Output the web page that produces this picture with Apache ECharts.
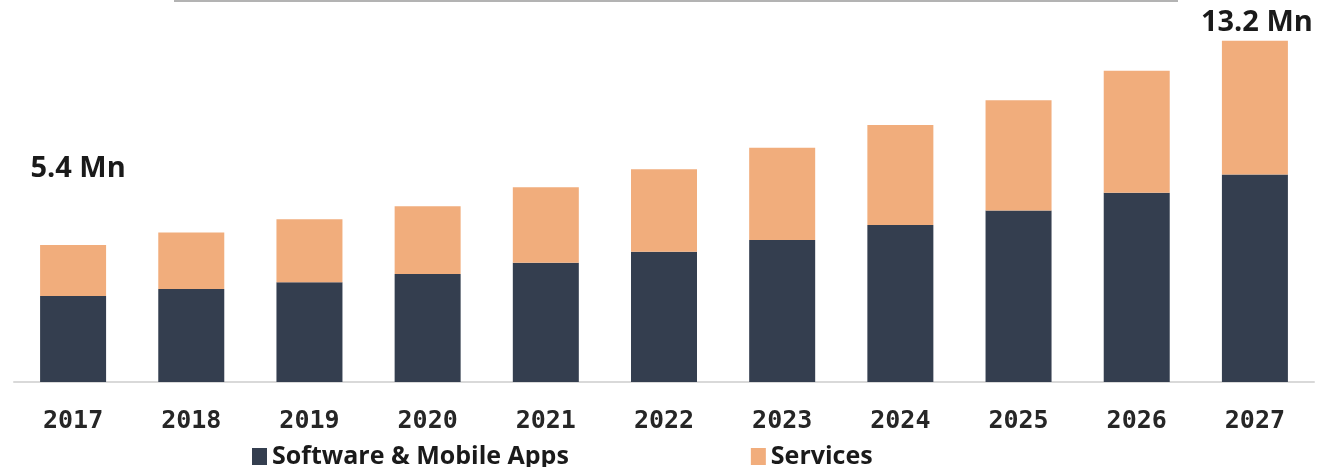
<!DOCTYPE html>
<html>
<head>
<meta charset="utf-8">
<script src="https://cdn.jsdelivr.net/npm/echarts@6/dist/echarts.min.js"></script>
<style>
html,body{margin:0;padding:0;background:#fff;}
#chart{width:1329px;height:467px;}
</style>
</head>
<body>
<div id="chart"></div>
<script>
// Data (Mn units)
const years = ['2017','2018','2019','2020','2021','2022','2023','2024','2025','2026','2027'];
const softwareMobileApps = [3.35, 3.62, 3.88, 4.20, 4.64, 5.07, 5.53, 6.11, 6.67, 7.37, 8.08];
const services = [1.98, 2.20, 2.45, 2.64, 2.94, 3.21, 3.59, 3.89, 4.30, 4.74, 5.20];
const totalLabels = ['5.4 Mn', '', '', '', '', '', '', '', '', '', '13.2 Mn'];
const seriesNames = ['Software & Mobile Apps', 'Services'];

const labelStyle = [
  {distance: 62, offset: [5, 0]},
  null, null, null, null, null, null, null, null, null,
  {distance: 4, offset: [2, 0]}
];

const servicesData = services.map((v, i) => {
  if (!totalLabels[i]) return v;
  return {
    value: v,
    label: {
      show: true,
      position: 'top',
      formatter: totalLabels[i],
      distance: labelStyle[i].distance,
      offset: labelStyle[i].offset,
      fontFamily: 'Open Sans',
      fontWeight: 700,
      fontSize: 29,
      color: '#1a1a1a'
    }
  };
});

const chart = echarts.init(document.getElementById('chart'), null, {renderer: 'canvas'});
chart.setOption({
  animation: false,
  backgroundColor: '#ffffff',
  grid: {left: 14, right: 15, top: 30, bottom: 85, containLabel: false},
  graphic: [{
    type: 'line',
    shape: {x1: 174, y1: 1, x2: 1178, y2: 1},
    style: {stroke: '#9a9a9a', lineWidth: 1.5}
  }],
  legend: {
    data: seriesNames,
    left: 252,
    top: 444,
    padding: 0,
    itemGap: 182,
    itemWidth: 15,
    itemHeight: 17,
    icon: 'rect',
    textStyle: {fontFamily: 'Open Sans', fontWeight: 700, fontSize: 25, color: '#1a1a1a'}
  },
  xAxis: {
    type: 'category',
    data: years,
    axisLine: {show: true, lineStyle: {color: '#d9d9d9', width: 2}},
    axisTick: {show: false},
    axisLabel: {
      margin: 27,
      fontFamily: 'DejaVu Sans Mono',
      fontWeight: 'bold',
      fontSize: 25,
      color: '#262626'
    }
  },
  yAxis: {
    type: 'value',
    min: 0,
    max: 13.7,
    show: false,
    splitLine: {show: false}
  },
  series: [
    {
      name: seriesNames[0],
      type: 'bar',
      stack: 'total',
      barWidth: 66,
      data: softwareMobileApps,
      itemStyle: {color: '#343e4f'}
    },
    {
      name: seriesNames[1],
      type: 'bar',
      stack: 'total',
      barWidth: 66,
      data: servicesData,
      itemStyle: {color: '#f1ad7c'}
    }
  ]
});
</script>
</body>
</html>
